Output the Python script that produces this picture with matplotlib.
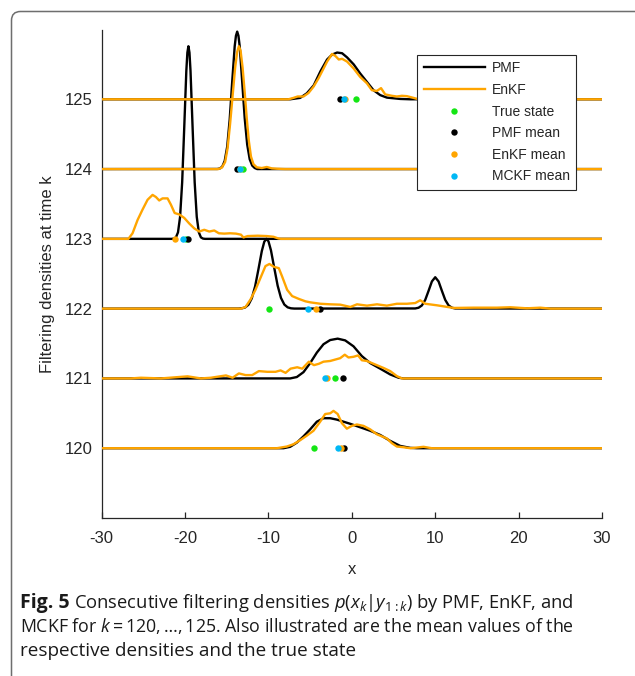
import matplotlib
matplotlib.use("Agg")
import matplotlib.pyplot as plt
from matplotlib.patches import FancyBboxPatch
from matplotlib.transforms import IdentityTransform
from matplotlib.lines import Line2D

plt.rcParams["font.family"] = ["Liberation Sans", "DejaVu Sans"]
plt.rcParams["mathtext.fontset"] = "custom"
plt.rcParams["mathtext.rm"] = "Open Sans"
plt.rcParams["mathtext.it"] = "Open Sans:italic"
plt.rcParams["mathtext.bf"] = "Open Sans:bold"

# ---------------------------------------------------------------------------
# Time steps and point estimates
# ---------------------------------------------------------------------------
time_steps = [120, 121, 122, 123, 124, 125]
true_state = [-4.5, -2.0, -9.95, -19.9, -13.1, 0.55]
pmf_mean = [-1.0, -1.05, -3.8, -19.6, -13.75, -1.45]
enkf_mean = [-1.3, -2.95, -4.3, -21.25, -13.4, -0.8]
mckf_mean = [-1.65, -3.2, -5.3, -20.25, -13.4, -0.9]

# ---------------------------------------------------------------------------
# Filtering densities (state value, density) for each time step
# ---------------------------------------------------------------------------
pmf_x_120 = [-30, -8.2, -7.4, -6.6, -5.8, -5.0, -4.2, -3.4, -2.6, -1.8, -1.0, -0.2, 1.0, 2.2, 3.4, 4.6, 5.8, 7.0, 7.8, 30]
pmf_h_120 = [0, 0, 0.02, 0.08, 0.17, 0.27, 0.38, 0.43, 0.43, 0.41, 0.38, 0.35, 0.30, 0.25, 0.19, 0.105, 0.033, 0.005, 0, 0]
enkf_x_120 = [-30, -9.0, -7.8, -7.0, -6.2, -5.4, -4.6, -3.8, -3.2, -2.6, -2.2, -1.7, -1.2, -0.6, 0.0, 0.6, 1.4, 2.2, 3.0, 3.6, 4.2, 4.8, 5.4, 6.2, 7.0, 8.6, 9.6, 30]
enkf_h_120 = [0, 0, 0.024, 0.057, 0.115, 0.18, 0.25, 0.38, 0.49, 0.50, 0.535, 0.49, 0.36, 0.28, 0.32, 0.34, 0.32, 0.27, 0.20, 0.17, 0.14, 0.072, 0.024, 0.014, 0, 0.02, 0, 0]

pmf_x_121 = [-30, -7.4, -6.6, -5.8, -5.0, -4.2, -3.4, -2.6, -1.7, -0.8, 0.2, 1.2, 2.2, 3.4, 4.6, 5.6, 6.2, 30]
pmf_h_121 = [0, 0, 0.02, 0.09, 0.22, 0.37, 0.49, 0.55, 0.57, 0.545, 0.46, 0.32, 0.22, 0.14, 0.057, 0.01, 0, 0]
enkf_x_121 = [-30, -26.5, -25.3, -22.9, -19.7, -18.1, -16.9, -15.1, -14.3, -13.55, -12.75, -11.95, -11.15, -10.15,
              -9.15, -8.55, -7.95, -7.35, -6.55, -5.95, -5.15, -4.55, -3.95, -3.4, -2.6, -2.0, -1.4, -0.85, -0.4,
              0.2, 0.75, 1.2, 1.8, 2.4, 3.0, 3.8, 4.6, 5.4, 6.0, 30]
enkf_h_121 = [0, 0, 0.01, 0.0, 0.03, 0.0, 0.01, 0.043, 0.01, 0.072, 0.048, 0.048, 0.105, 0.095,
              0.095, 0.115, 0.08, 0.14, 0.16, 0.14, 0.24, 0.19, 0.21, 0.24, 0.25, 0.27, 0.29, 0.34, 0.30,
              0.31, 0.33, 0.26, 0.25, 0.22, 0.19, 0.15, 0.105, 0.033, 0, 0]

pmf_x_122 = [-30, -13.6, -13.2, -12.8, -12.4, -12.0, -11.6, -11.2, -10.8, -10.5, -10.24, -10.0, -9.7, -9.3,
             -8.9, -8.5, -8.1, -7.7, -7.3, -6.9, 7.6, 8.0, 8.4, 8.8, 9.2, 9.6, 10.0, 10.4, 10.8, 11.2, 11.6,
             12.0, 12.4, 30]
pmf_h_122 = [0, 0.001, 0.0045, 0.017, 0.056, 0.148, 0.32, 0.566, 0.824, 0.96, 1.0, 0.965, 0.835, 0.58,
             0.33, 0.154, 0.059, 0.0187, 0.0048, 0.001, 0.0027, 0.013, 0.046, 0.125, 0.255, 0.39, 0.45, 0.39,
             0.255, 0.125, 0.046, 0.013, 0.0027, 0]
enkf_x_122 = [-30, -13.3, -12.75, -12.16, -11.56, -10.96, -10.36, -9.88, -9.36, -8.76, -8.36, -7.76, -7.16,
              -6.37, -5.57, -4.97, -3.77, -2.57, -1.38, -0.18, 0.62, 1.82, 3.02, 4.2, 5.4, 6.6, 7.6, 8.2,
              8.8, 10.2, 12.2, 14.6, 17.4, 19.0, 21.0, 22.6, 23.8, 30]
enkf_h_122 = [0, 0, 0.024, 0.13, 0.27, 0.44, 0.61, 0.64, 0.60, 0.58, 0.46, 0.27, 0.18,
              0.14, 0.105, 0.09, 0.07, 0.062, 0.057, 0.024, 0.062, 0.043, 0.062, 0.043, 0.07, 0.07, 0.08, 0.12,
              0.07, 0.048, 0.01, 0.014, 0.014, 0.02, 0.005, 0.014, 0, 0]

pmf_x_123 = [-30, -21.6, -21.35, -21.1, -20.85, -20.6, -20.35, -20.1, -19.85, -19.725, -19.6, -19.475, -19.35,
             -19.1, -18.85, -18.6, -18.35, -18.1, -17.85, -17.6, 30]
pmf_h_123 = [0, 0, 0.0036, 0.021, 0.093, 0.315, 0.81, 1.60, 2.41, 2.67, 2.76, 2.67, 2.41,
             1.60, 0.81, 0.315, 0.093, 0.021, 0.0036, 0, 0]
enkf_x_123 = [-30, -26.8, -26.3, -25.7, -25.1, -24.5, -23.9, -23.5, -23.1, -22.7, -22.1, -21.7, -21.25, -20.7,
              -20.1, -19.5, -18.9, -18.3, -17.7, -17.1, -16.5, -15.95, -15.3, -14.6, -13.9, -13.3, -13.0,
              -12.5, -11.3, -10.2, -9.4, -8.8, -8.5, 30]
enkf_h_123 = [0, 0, 0.08, 0.27, 0.42, 0.56, 0.63, 0.60, 0.55, 0.58, 0.58, 0.49, 0.37, 0.35,
              0.30, 0.22, 0.15, 0.105, 0.13, 0.105, 0.12, 0.08, 0.075, 0.08, 0.075, 0.06, 0.02,
              0.04, 0.045, 0.04, 0.03, 0.005, 0, 0]

pmf_x_124 = [-30, -16.15, -15.85, -15.55, -15.25, -14.95, -14.65, -14.35, -14.05, -13.9, -13.75, -13.6, -13.45,
             -13.15, -12.85, -12.55, -12.25, -11.95, -11.65, -11.35, 30]
pmf_h_124 = [0, 0.0014, 0.0078, 0.033, 0.116, 0.32, 0.71, 1.25, 1.76, 1.91, 1.97, 1.91, 1.76,
             1.25, 0.73, 0.35, 0.14, 0.05, 0.015, 0, 0]
enkf_x_124 = [-30, -16.0, -15.6, -15.2, -14.9, -14.6, -14.3, -14.0, -13.75, -13.55, -13.35, -13.1, -12.85,
              -12.6, -12.35, -12.1, -11.8, -11.4, -10.8, -10.2, -9.6, -9.0, -8.0, 30]
enkf_h_124 = [0, 0, 0.02, 0.10, 0.30, 0.65, 1.05, 1.45, 1.68, 1.76, 1.70, 1.45, 1.10,
              0.72, 0.40, 0.18, 0.07, 0.025, 0.015, 0.03, 0.01, 0.005, 0, 0]

pmf_x_125 = [-30, -7.4, -6.2, -5.4, -4.57, -3.77, -2.97, -2.37, -1.77, -1.17, -0.57, 0.22, 1.0, 1.8, 2.6, 3.4,
             4.2, 5.8, 7.0, 30]
pmf_h_125 = [0, 0, 0.02, 0.086, 0.2, 0.4, 0.57, 0.64, 0.67, 0.66, 0.6, 0.5, 0.37, 0.25, 0.13, 0.06,
             0.024, 0.005, 0, 0]
enkf_x_125 = [-30, -7.6, -7.0, -6.5, -5.8, -5.2, -4.6, -4.0, -3.4, -2.97, -2.37, -1.97, -1.57, -1.17, -0.57,
              0.22, 1.0, 1.8, 2.4, 3.0, 3.5, 4.0, 4.8, 5.4, 6.0, 6.6, 7.4, 8.0, 30]
enkf_h_125 = [0, 0, 0.02, 0.04, 0.04, 0.09, 0.18, 0.3, 0.44, 0.54, 0.65, 0.62, 0.57, 0.58, 0.54,
              0.44, 0.32, 0.23, 0.13, 0.12, 0.16, 0.07, 0.05, 0.04, 0.05, 0.045, 0.02, 0, 0]

pmf_curves = [(pmf_x_120, pmf_h_120), (pmf_x_121, pmf_h_121), (pmf_x_122, pmf_h_122),
              (pmf_x_123, pmf_h_123), (pmf_x_124, pmf_h_124), (pmf_x_125, pmf_h_125)]
enkf_curves = [(enkf_x_120, enkf_h_120), (enkf_x_121, enkf_h_121), (enkf_x_122, enkf_h_122),
               (enkf_x_123, enkf_h_123), (enkf_x_124, enkf_h_124), (enkf_x_125, enkf_h_125)]

x_ticks = [-30, -20, -10, 0, 10, 20, 30]

# ---------------------------------------------------------------------------
# Styling
# ---------------------------------------------------------------------------
BLACK = "#000000"
ORANGE = "#ffa500"
GREEN = "#14e614"
CYAN = "#00b8f5"
AXIS = "#262626"

W, H = 635, 676
fig = plt.figure(figsize=(W / 100, H / 100), dpi=100)

# rounded frame around figure and caption
frame = FancyBboxPatch((11.5, -30), 680, H - 11.5 + 30, boxstyle="round,pad=0,rounding_size=9",
                       transform=IdentityTransform(), facecolor="none", edgecolor="#6e6e6e",
                       linewidth=1.1, zorder=0)
fig.patches.append(frame)

ax_top, ax_bottom, ax_left, ax_right = 29.5, 518, 101.7, 602
ax = fig.add_axes([ax_left / W, 1 - ax_bottom / H, (ax_right - ax_left) / W, (ax_bottom - ax_top) / H])

for k, (xs, hs) in zip(time_steps, pmf_curves):
    ax.plot(xs, [k + h for h in hs], color=BLACK, lw=1.7, solid_capstyle="butt", zorder=2)
for k, (xs, hs) in zip(time_steps, enkf_curves):
    ax.plot(xs, [k + h for h in hs], color=ORANGE, lw=1.7, solid_capstyle="butt", zorder=3)

ms = 4.6
ax.plot(true_state, time_steps, ls="none", marker="o", ms=ms, mec="none", color=GREEN, zorder=4)
ax.plot(pmf_mean, time_steps, ls="none", marker="o", ms=ms, mec="none", color=BLACK, zorder=5)
ax.plot(enkf_mean, time_steps, ls="none", marker="o", ms=ms, mec="none", color=ORANGE, zorder=6)
ax.plot(mckf_mean, time_steps, ls="none", marker="o", ms=ms, mec="none", color=CYAN, zorder=7)

ax.set_xlim(-30, 30)
ax.set_ylim(119, 126)
ax.set_xticks(x_ticks)
ax.set_xticklabels([str(v) for v in x_ticks])
ax.set_yticks(time_steps)
ax.set_yticklabels([str(v) for v in time_steps])

for side in ("top", "right"):
    ax.spines[side].set_visible(False)
for side in ("left", "bottom"):
    ax.spines[side].set_color(AXIS)
    ax.spines[side].set_linewidth(0.9)

ax.tick_params(axis="x", direction="in", length=4.5, width=0.9, color=AXIS, labelcolor=AXIS,
               labelsize=12, pad=9.5)
ax.tick_params(axis="y", direction="in", length=0, labelcolor=AXIS, labelsize=12, pad=6.5)

ax.set_xlabel("x", fontsize=12, color=AXIS, labelpad=11.5)
ax.set_ylabel("Filtering densities at time k", fontsize=12, color=AXIS, va="center")
ax.yaxis.set_label_coords(-0.109, 0.5)

handles = [
    Line2D([], [], color=BLACK, lw=1.7),
    Line2D([], [], color=ORANGE, lw=1.7),
    Line2D([], [], ls="none", marker="o", ms=ms, mec="none", color=GREEN),
    Line2D([], [], ls="none", marker="o", ms=ms, mec="none", color=BLACK),
    Line2D([], [], ls="none", marker="o", ms=ms, mec="none", color=ORANGE),
    Line2D([], [], ls="none", marker="o", ms=ms, mec="none", color=CYAN),
]
labels = ["PMF", "EnKF", "True state", "PMF mean", "EnKF mean", "MCKF mean"]
leg = ax.legend(handles, labels, loc="upper right",
                bbox_to_anchor=((576 - ax_left) / (ax_right - ax_left), (ax_bottom - 55) / (ax_bottom - ax_top)),
                borderaxespad=0, fontsize=10, frameon=True, fancybox=False, framealpha=1,
                edgecolor="#262626", handlelength=4.4, handletextpad=0.5, labelspacing=0.55,
                borderpad=0.45)
leg.get_frame().set_linewidth(0.8)
for t in leg.get_texts():
    t.set_color(AXIS)

# caption below the chart
cap_color = "#1a1a1a"
x0 = 20 / W
lines_y = [1 - 608 / H, 1 - 632 / H, 1 - 656 / H]
bold = fig.text(x0, lines_y[0], "Fig. 5", fontweight="bold", va="baseline",
                family="Open Sans", fontsize=14, color=cap_color)
renderer = fig.canvas.get_renderer()
bb = bold.get_window_extent(renderer)
x1 = (bb.x1 + 4) / W
fig.text(x1, lines_y[0], r"Consecutive filtering densities $p(x_k|y_{1:k})$ by PMF, EnKF, and",
         va="baseline", family="Open Sans", fontsize=13.2, color=cap_color)
fig.text(x0, lines_y[1], r"MCKF for $k = 120, \ldots, 125$. Also illustrated are the mean values of the",
         va="baseline", family="Open Sans", fontsize=12.8, color=cap_color)
fig.text(x0, lines_y[2], "respective densities and the true state", va="baseline",
         family="Open Sans", fontsize=13.6, color=cap_color)

fig.savefig("out.png", dpi=100)
